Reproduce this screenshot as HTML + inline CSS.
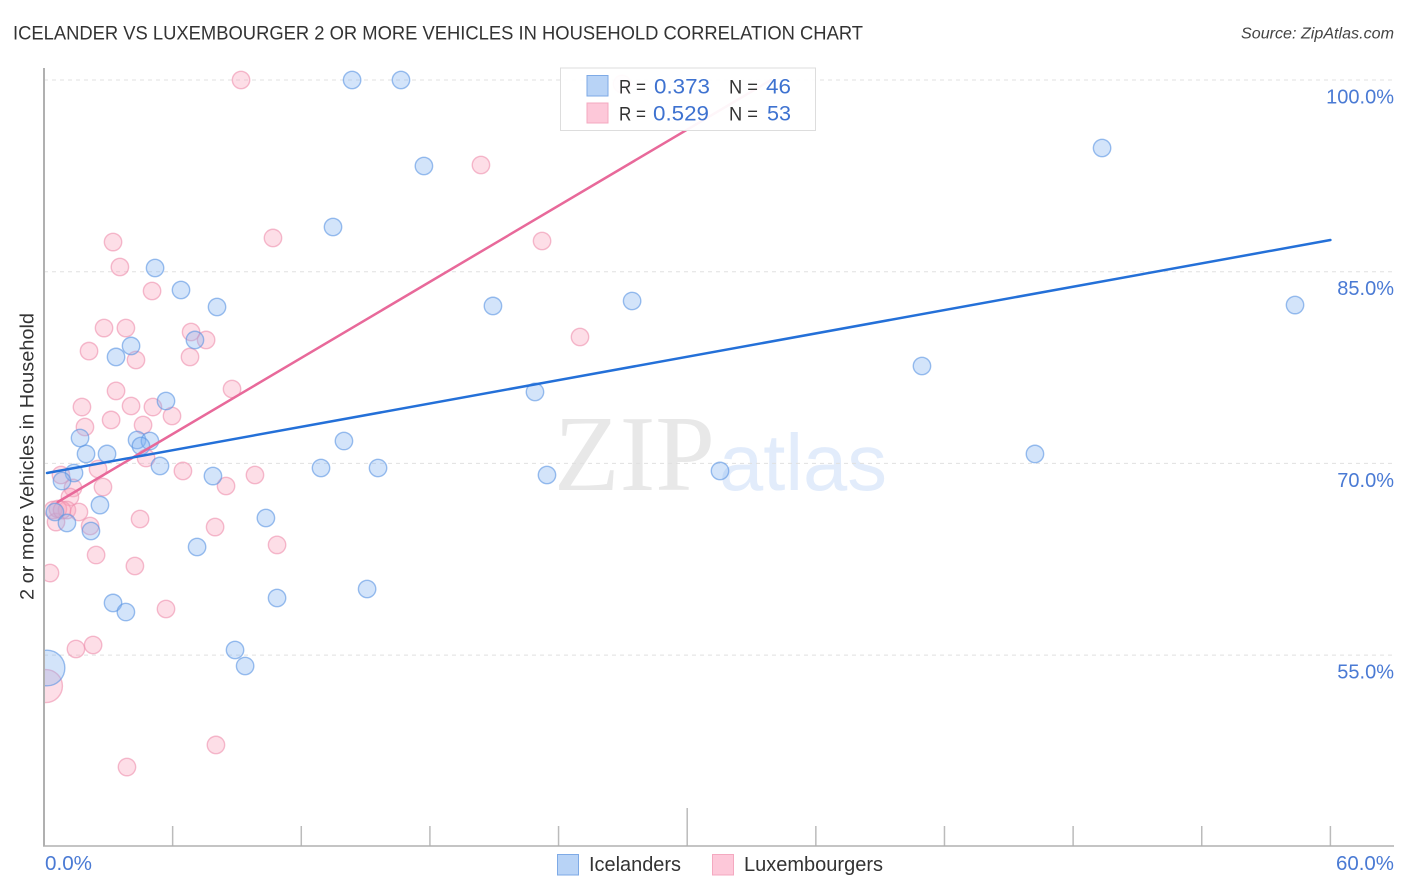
<!DOCTYPE html>
<html lang="en">
<head>
<meta charset="utf-8">
<title>Icelander vs Luxembourger 2 or more Vehicles in Household Correlation Chart</title>
<style>
html,body{margin:0;padding:0;background:#fff;}
svg{display:block;font-family:"Liberation Sans",sans-serif;}
</style>
</head>
<body>
<svg id="chart" width="1406" height="892" viewBox="0 0 1406 892" xmlns="http://www.w3.org/2000/svg">
  <defs>
    <clipPath id="plot-clip"><rect x="44" y="60" width="1350" height="786"/></clipPath>
  </defs>
  <rect x="0" y="0" width="1406" height="892" fill="#ffffff"/>
  <text x="13" y="39.500" font-size="19.500" fill="#333333" textLength="850" lengthAdjust="spacingAndGlyphs">ICELANDER VS LUXEMBOURGER 2 OR MORE VEHICLES IN HOUSEHOLD CORRELATION CHART</text>
  <text x="1241" y="38.500" font-size="15.500" font-style="italic" fill="#444444" textLength="153" lengthAdjust="spacingAndGlyphs">Source: ZipAtlas.com</text>

  <g>
    <text x="554" y="490" font-family="'Liberation Serif',serif" font-size="108" fill="#e8e8e8" textLength="161" lengthAdjust="spacingAndGlyphs">ZIP</text>
    <text x="719" y="490" font-size="80" fill="#e2ecfb" textLength="168" lengthAdjust="spacingAndGlyphs">atlas</text>
  </g>

  <g id="grid"></g>
  <g id="ticks"></g>
  <g id="marks" clip-path="url(#plot-clip)"></g>
  <g id="trends"></g>

  <line x1="44" y1="68" x2="44" y2="846.500" stroke="#b0b0b0" stroke-width="2"/>
  <line x1="43" y1="846" x2="1394" y2="846" stroke="#b0b0b0" stroke-width="1.500"/>

  <text transform="translate(33.500,456.500) rotate(-90)" font-size="19" fill="#333333" text-anchor="middle" textLength="287" lengthAdjust="spacingAndGlyphs">2 or more Vehicles in Household</text>
  <g id="y-labels"></g>
  <text x="45" y="870" font-size="20" fill="#4a7ad4" textLength="47" lengthAdjust="spacingAndGlyphs">0.0%</text>
  <text x="1394" y="870" font-size="20" fill="#4a7ad4" text-anchor="end" textLength="58" lengthAdjust="spacingAndGlyphs">60.0%</text>

  <g>
    <rect x="560.500" y="68" width="255" height="62.500" fill="#ffffff" fill-opacity="0.94" stroke="#dddddd" stroke-width="1"/>
    <rect x="587" y="75.500" width="21" height="20.500" fill="#b8d3f6" stroke="#7eaae6" stroke-width="1"/>
    <rect x="587" y="103" width="21" height="20" fill="#fdc8d9" stroke="#f4a9c0" stroke-width="1"/>
    <text x="619" y="93.500" font-size="19" fill="#333333" textLength="27" lengthAdjust="spacingAndGlyphs">R =</text>
    <text x="654" y="93.500" font-size="21" fill="#3e72d0" textLength="56" lengthAdjust="spacingAndGlyphs">0.373</text>
    <text x="729" y="93.500" font-size="19" fill="#333333" textLength="29" lengthAdjust="spacingAndGlyphs">N =</text>
    <text x="766" y="93.500" font-size="21" fill="#3e72d0" textLength="25" lengthAdjust="spacingAndGlyphs">46</text>
    <text x="619" y="120.500" font-size="19" fill="#333333" textLength="27" lengthAdjust="spacingAndGlyphs">R =</text>
    <text x="653" y="120.500" font-size="21" fill="#3e72d0" textLength="56" lengthAdjust="spacingAndGlyphs">0.529</text>
    <text x="729" y="120.500" font-size="19" fill="#333333" textLength="29" lengthAdjust="spacingAndGlyphs">N =</text>
    <text x="767" y="120.500" font-size="21" fill="#3e72d0" textLength="24" lengthAdjust="spacingAndGlyphs">53</text>
  </g>

  <g>
    <rect x="557.500" y="854.500" width="21" height="20.500" fill="#b8d3f6" stroke="#7eaae6" stroke-width="1"/>
    <text x="589" y="871" font-size="20" fill="#333333" textLength="92" lengthAdjust="spacingAndGlyphs">Icelanders</text>
    <rect x="712.500" y="854.500" width="21" height="20.500" fill="#fdc8d9" stroke="#f4a9c0" stroke-width="1"/>
    <text x="744" y="871" font-size="20" fill="#333333" textLength="139" lengthAdjust="spacingAndGlyphs">Luxembourgers</text>
  </g>
</svg>
<script>
const yTickValues = [100, 85, 70, 55];
const yTickLabels = ["100.0%", "85.0%", "70.0%", "55.0%"];
const xTickValues = [6, 12, 18, 24, 30, 36, 42, 48, 54, 60];
const xTickMajor = [false, false, false, false, true, false, false, false, false, false];

const icelanderX = [14.37,16.65,49.35,17.72,13.48,5.18,6.39,8.07,20.94,27.43,58.35,7.04,4.06,3.36,40.95,22.90,5.69,1.68,4.34,4.94,13.99,4.52,1.96,2.94,5.41,12.92,15.58,1.40,7.88,23.46,31.53,46.22,0.84,2.61,0.51,1.07,10.35,2.19,7.14,15.07,10.87,3.22,3.82,8.91,9.38,0.14];
const icelanderY = [100,100,94.68,93.27,88.50,85.29,83.57,82.24,82.32,82.71,82.39,79.66,79.19,78.33,77.62,75.59,74.88,71.99,71.83,71.75,71.75,71.36,70.74,70.74,69.80,69.64,69.64,69.25,69.01,69.09,69.41,70.74,68.62,66.74,66.20,65.34,65.73,64.71,63.46,60.17,59.47,59.08,58.37,55.40,54.15,53.99];
const icelanderSize = [1,1,1,1,1,1,1,1,1,1,1,1,1,1,1,1,1,1,1,1,1,1,1,1,1,1,1,1,1,1,1,1,1,1,1,1,1,1,1,1,1,1,1,1,1,4.2];

const luxembourgerX = [9.19,26.96,20.38,3.22,10.68,23.23,3.54,5.04,2.80,3.82,6.86,7.56,2.10,4.29,6.81,25.00,3.36,8.77,4.06,1.77,5.08,5.97,3.13,1.91,4.62,4.76,2.52,6.48,9.84,8.49,0.79,1.35,2.75,1.21,0.42,1.07,0.56,1.63,2.15,4.48,7.98,10.87,2.43,4.24,0.28,5.69,1.49,2.29,8.02,3.87,0.09,0.65,0.84];
const luxembourgerY = [100,99.69,93.35,87.32,87.64,87.40,85.37,83.49,80.59,80.59,80.28,79.66,78.79,78.09,78.33,79.89,75.67,75.82,74.49,74.41,74.41,73.71,73.40,72.85,73.00,70.42,69.56,69.41,69.09,68.23,69.09,68.08,68.15,67.37,66.35,66.35,65.41,66.20,65.10,65.65,65.02,63.62,62.83,61.97,61.42,58.61,55.48,55.79,47.97,46.24,52.58,66.43,66.35];
const luxembourgerSize = [1,1,1,1,1,1,1,1,1,1,1,1,1,1,1,1,1,1,1,1,1,1,1,1,1,1,1,1,1,1,1,1,1,1,1,1,1,1,1,1,1,1,1,1,1,1,1,1,1,1,3.6,1,1];

const icelanderTrendX = [0.14, 60];
const icelanderTrendY = [69.25, 87.48];
const luxembourgerTrendX = [0.64, 33.91];
const luxembourgerTrendY = [66.98, 100];

const NS = "http://www.w3.org/2000/svg";
function xScale(v) { return 44 + v * 21.44; }
function yScale(v) { return 80 + (100 - v) * 12.78; }
function sizeScale(s) { return 8.7 * Math.sqrt(s); }
function make(tag, attrs) {
  const el = document.createElementNS(NS, tag);
  for (const k in attrs) el.setAttribute(k, attrs[k]);
  return el;
}

const gridG = document.getElementById("grid");
const labelG = document.getElementById("y-labels");
yTickValues.forEach(function (v, i) {
  const gy = yScale(v);
  const gridLine = make("line", { x1: 44, y1: gy, x2: 1394, y2: gy, stroke: "#e0e0e0", "stroke-width": 1, "stroke-dasharray": "4 4" });
  
  
  gridG.appendChild(gridLine);
  const label = make("text", { x: 1394, y: gy + 23.5, "font-size": 20, fill: "#4a7ad4", "text-anchor": "end" });
  
  
  label.textContent = yTickLabels[i];
  labelG.appendChild(label);
});

const tickG = document.getElementById("ticks");
xTickValues.forEach(function (v, i) {
  const tx = xScale(v);
  const tick = make("line", { x1: tx, y1: xTickMajor[i] ? 808 : 826, x2: tx, y2: 846, stroke: "#bbbbbb", "stroke-width": 1.5 });
  
  
  tickG.appendChild(tick);
});

const marksG = document.getElementById("marks");
function drawSeries(xs, ys, sizes, fill, stroke, name) {
  xs.forEach(function (v, i) {
    const c = make("circle", { cx: xScale(v), cy: yScale(ys[i]), r: sizeScale(sizes[i]), fill: fill, "fill-opacity": 0.36, stroke: stroke, "stroke-opacity": 0.6, "stroke-width": 1.4 });
    
    
    marksG.appendChild(c);
  });
}
drawSeries(luxembourgerX, luxembourgerY, luxembourgerSize, "#f9a3bd", "#ef8fae", "point-luxembourger");
drawSeries(icelanderX, icelanderY, icelanderSize, "#86b5f2", "#5a94e2", "point-icelander");

const trendG = document.getElementById("trends");
const pinkLine = make("line", { x1: xScale(luxembourgerTrendX[0]), y1: yScale(luxembourgerTrendY[0]), x2: xScale(luxembourgerTrendX[1]), y2: yScale(luxembourgerTrendY[1]), stroke: "#e8699a", "stroke-width": 2.5, "stroke-linecap": "round" });


trendG.insertBefore(pinkLine, trendG.firstChild);
const blueLine = make("line", { x1: xScale(icelanderTrendX[0]), y1: yScale(icelanderTrendY[0]), x2: xScale(icelanderTrendX[1]), y2: yScale(icelanderTrendY[1]), stroke: "#2470d8", "stroke-width": 2.5, "stroke-linecap": "round" });


trendG.appendChild(blueLine);
</script>
</body>
</html>
